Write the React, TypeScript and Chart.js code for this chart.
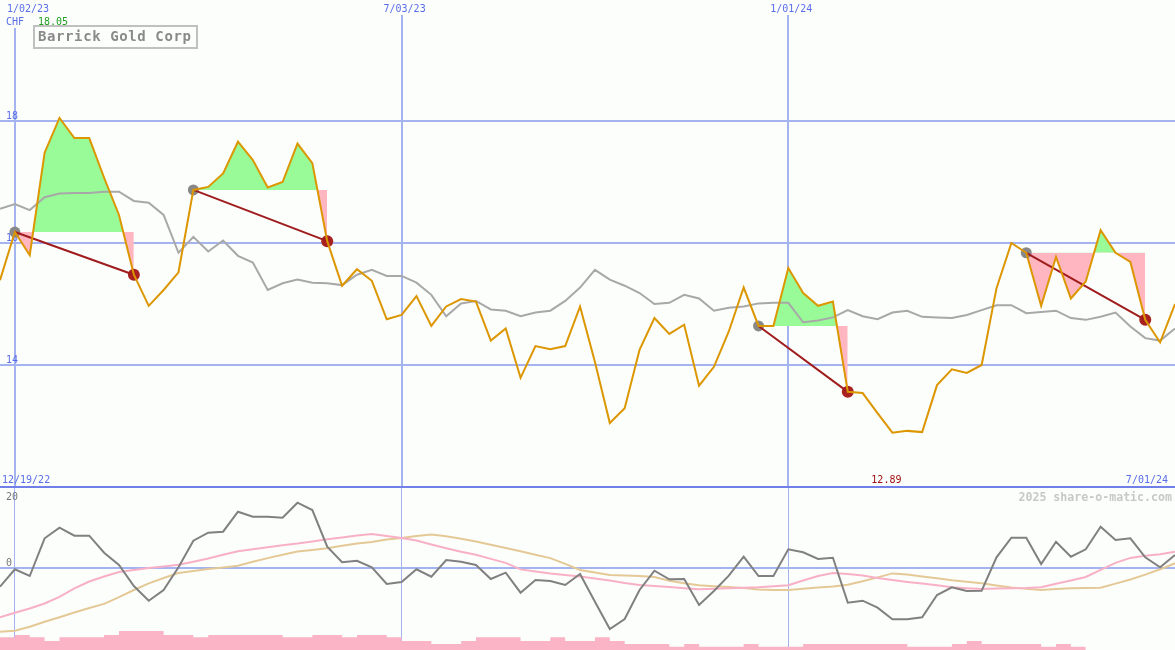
import React, { useEffect, useRef } from 'react';
import { Chart, registerables } from 'chart.js';

Chart.register(...registerables);

// ---------------- data (weekly, index 0 = week of 12/26/22) ----------------
const price = [
  15.39, 16.18, 15.80, 17.48, 18.05, 17.72, 17.72, 17.07, 16.46, 15.48,
  14.97, 15.23, 15.52, 16.87, 16.92, 17.14, 17.66, 17.36, 16.91, 17.00,
  17.63, 17.31, 16.03, 15.30, 15.57, 15.38, 14.75, 14.82, 15.13, 14.64,
  14.96, 15.08, 15.04, 14.40, 14.60, 13.79, 14.31, 14.26, 14.31, 14.96,
  14.05, 13.05, 13.29, 14.25, 14.77, 14.51, 14.66, 13.66, 13.97, 14.55,
  15.27, 14.64, 14.64, 15.59, 15.18, 14.97, 15.04, 13.56, 13.54, 13.21,
  12.89, 12.92, 12.90, 13.67, 13.93, 13.87, 14.00, 15.26, 16.00, 15.84,
  14.97, 15.77, 15.09, 15.37, 16.21, 15.84, 15.69, 14.74, 14.37, 15.00,
];

const movingAvg = [
  16.56, 16.64, 16.54, 16.75, 16.81, 16.82, 16.82, 16.84, 16.84, 16.69,
  16.66, 16.46, 15.84, 16.10, 15.86, 16.04, 15.79, 15.68, 15.23, 15.34,
  15.40, 15.35, 15.34, 15.31, 15.48, 15.56, 15.46, 15.46, 15.35, 15.15,
  14.80, 15.01, 15.05, 14.91, 14.89, 14.80, 14.86, 14.89, 15.05, 15.27,
  15.56, 15.40, 15.30, 15.18, 15.00, 15.02, 15.15, 15.09, 14.89, 14.94,
  14.96, 15.01, 15.02, 15.02, 14.70, 14.73, 14.78, 14.90, 14.80, 14.75,
  14.86, 14.89, 14.79, 14.78, 14.77, 14.82, 14.90, 14.98, 14.98, 14.85,
  14.87, 14.89, 14.77, 14.74, 14.79, 14.86, 14.63, 14.44, 14.40, 14.60,
];

const oscillator = [
  -4.71, -0.40, -2.06, 7.29, 9.91, 7.93, 7.93, 3.72, 0.67, -4.54,
  -8.18, -5.53, 0.10, 6.69, 8.67, 8.92, 13.88, 12.64, 12.64, 12.39,
  16.11, 14.30, 5.20, 1.34, 1.73, 0.10, -4.04, -3.54, -0.40, -2.23,
  1.91, 1.49, 0.67, -2.80, -1.24, -6.20, -3.05, -3.30, -4.29, -1.56,
  -8.43, -15.19, -12.71, -5.53, -0.74, -2.87, -2.80, -9.24, -5.77, -1.98,
  2.73, -2.06, -2.06, 4.56, 3.82, 2.16, 2.48, -8.67, -8.18, -9.91,
  -12.79, -12.79, -12.29, -6.77, -4.86, -5.77, -5.70, 2.58, 7.43, 7.43,
  0.92, 6.44, 2.73, 4.56, 10.16, 6.86, 7.29, 2.58, 0.10, 3.15,
];

const pinkAvg = [
  -12.29, -11.15, -10.11, -8.87, -7.24, -5.13, -3.42, -2.18, -1.07, -0.57,
  -0.10, 0.30, 0.74, 1.49, 2.26, 3.20, 4.09, 4.58, 5.08, 5.55,
  5.97, 6.49, 7.06, 7.48, 7.96, 8.33, 7.88, 7.34, 6.72, 5.77,
  4.83, 3.97, 3.20, 2.18, 1.19, -0.42, -0.97, -1.46, -1.81, -2.16,
  -2.65, -3.17, -3.79, -4.31, -4.54, -4.76, -5.08, -5.35, -5.20, -5.08,
  -4.98, -4.83, -4.58, -4.36, -3.17, -2.08, -1.34, -1.56, -1.96, -2.55,
  -3.07, -3.52, -3.89, -4.36, -4.86, -5.08, -5.28, -5.18, -5.11, -5.03,
  -4.83, -3.97, -3.17, -2.30, -0.52, 1.19, 2.43, 2.95, 3.35, 3.97,
];

const tanAvg = [
  -15.86, -15.61, -14.62, -13.38, -12.27, -11.10, -10.01, -8.97, -7.31, -5.53,
  -3.87, -2.55, -1.34, -0.84, -0.35, 0.05, 0.50, 1.46, 2.38, 3.22,
  4.01, 4.41, 4.83, 5.43, 5.97, 6.37, 7.01, 7.34, 7.83, 8.20,
  7.81, 7.16, 6.49, 5.70, 4.86, 4.06, 3.20, 2.38, 0.94, -0.57,
  -1.19, -1.81, -1.93, -2.06, -2.30, -3.22, -3.87, -4.36, -4.58, -4.81,
  -5.03, -5.38, -5.53, -5.50, -5.20, -4.93, -4.68, -4.24, -3.35, -2.40,
  -1.41, -1.66, -2.18, -2.63, -3.12, -3.49, -3.87, -4.39, -4.93, -5.25,
  -5.50, -5.28, -5.11, -5.03, -4.96, -3.94, -2.92, -1.73, -0.40, 1.09,
];

const volume = [
  3.8, 4.5, 3.8, 2.7, 3.8, 3.8, 3.8, 4.5, 5.7, 5.7,
  5.7, 4.5, 4.5, 3.8, 4.5, 4.5, 4.5, 4.5, 4.5, 3.8,
  3.8, 4.5, 4.5, 3.8, 4.5, 4.5, 3.8, 2.7, 2.7, 1.8,
  1.8, 2.7, 3.8, 3.8, 3.8, 2.7, 2.7, 3.8, 2.7, 2.7,
  3.8, 2.7, 1.8, 1.8, 1.8, 1.0, 1.8, 1.0, 1.0, 1.0,
  1.8, 1.0, 1.0, 1.0, 1.8, 1.8, 1.8, 1.8, 1.8, 1.8,
  1.8, 1.0, 1.0, 1.0, 1.8, 2.7, 1.8, 1.8, 1.8, 1.8,
  1.0, 1.8, 1.0, 1.0,
];

const entryWeeks = [1, 13, 51, 69];
const exitWeeks = [9, 22, 57, 77];

const dateTickWeeks = [1, 27, 53];
const dateTickLabels = ['1/02/23', '7/03/23', '1/01/24'];
const priceTicks = [14, 16, 18];
const oscTicks = [20, 0, -20];
const firstDateLabel = '12/19/22';
const lastDateLabel = '7/01/24';
const currency = 'CHF';
const title = 'Barrick Gold Corp';
const credit = '2025 share-o-matic.com';

// ---------------- styling ----------------
const W = 1175;
const TOP_H = 487;
const BOT_TOP = 486;
const BOT_H = 164;
const BG = '#fcfefc';
const GRID = '#a4b4f0';
const SEP = '#7080e8';
const BLUE_TXT = '#5a6ee8';
const MONO = '"DejaVu Sans Mono", "Liberation Mono", monospace';
const GREEN_FILL = '#98fb98';
const PINK_FILL = '#ffb6c1';
const ORANGE = '#dc9600';
const TRADE_RED = '#a01c1c';

const pts = (values: number[], start = 0) => values.map((v, i) => ({ x: start + i, y: v }));

function labelWithBg(ctx: CanvasRenderingContext2D, text: string, x: number, baseline: number, color: string) {
  const w = ctx.measureText(text).width;
  ctx.fillStyle = BG;
  ctx.fillRect(x - 1, baseline - 12, w + 2, 15);
  ctx.fillStyle = color;
  ctx.fillText(text, x, baseline);
}

function xScale(lineWidth: number) {
  return {
    type: 'linear',
    min: 0,
    max: price.length - 1,
    bounds: 'data',
    afterBuildTicks: (s: any) => { s.ticks = dateTickWeeks.map((v) => ({ value: v })); },
    afterFit: (s: any) => { s.height = 0; },
    ticks: { display: false },
    border: { display: false },
    grid: { color: GRID, lineWidth, drawTicks: false },
  };
}

export default function App() {
  const topRef = useRef<HTMLCanvasElement>(null);
  const botRef = useRef<HTMLCanvasElement>(null);

  useEffect(() => {
    const hi = Math.max(...price);
    const lo = Math.min(...price);
    const loWeek = price.indexOf(lo);

    const fillSets = entryWeeks.map((e, k) => ({
      type: 'line',
      data: pts(price.slice(e, exitWeeks[k] + 1), e),
      borderWidth: 0,
      borderColor: 'rgba(0,0,0,0)',
      pointRadius: 0,
      fill: { target: { value: price[e] }, above: GREEN_FILL, below: PINK_FILL },
      order: 10,
    }));
    const tradeLines = entryWeeks.map((e, k) => ({
      type: 'line',
      data: [{ x: e, y: price[e] }, { x: exitWeeks[k], y: price[exitWeeks[k]] }],
      borderColor: TRADE_RED,
      borderWidth: 2,
      pointRadius: 0,
      fill: false,
      order: 2,
    }));

    const topPlugin = {
      id: 'topDecor',
      beforeDatasetsDraw(chart: any) {
        const { ctx, scales } = chart;
        ctx.save();
        ctx.font = `10px ${MONO}`;
        ctx.fillStyle = BLUE_TXT;
        ctx.textBaseline = 'alphabetic';
        priceTicks.forEach((v) => ctx.fillText(String(v), 6, scales.y.getPixelForValue(v) - 2));
        ctx.restore();
      },
      afterDraw(chart: any) {
        const { ctx, scales } = chart;
        ctx.save();
        ctx.textBaseline = 'alphabetic';
        ctx.font = `10px ${MONO}`;
        dateTickWeeks.forEach((wk, i) => {
          const t = dateTickLabels[i];
          const w = ctx.measureText(t).width;
          const left = Math.max(7, scales.x.getPixelForValue(wk) + 3 - w / 2);
          labelWithBg(ctx, t, left, 12, BLUE_TXT);
        });
        labelWithBg(ctx, currency, 6, 25, BLUE_TXT);
        labelWithBg(ctx, hi.toFixed(2), 38, 25, '#22a022');

        // title box
        ctx.strokeStyle = '#c0c0c0';
        ctx.lineWidth = 2;
        ctx.strokeRect(34, 26, 163, 22);
        ctx.font = `bold 14px ${MONO}`;
        (ctx as any).letterSpacing = '0.6px';
        ctx.fillStyle = '#8a8a8a';
        ctx.fillText(title, 38, 41);
        (ctx as any).letterSpacing = '0px';

        // bottom row
        ctx.font = `10px ${MONO}`;
        ctx.fillStyle = BLUE_TXT;
        ctx.textAlign = 'left';
        ctx.fillText(firstDateLabel, 2, 483);
        ctx.textAlign = 'right';
        ctx.fillText(lastDateLabel, 1168, 483);
        ctx.textAlign = 'center';
        ctx.fillStyle = '#a01010';
        ctx.fillText(lo.toFixed(2), scales.x.getPixelForValue(loWeek) - 6, 483);
        ctx.restore();
      },
    };

    const top = new Chart(topRef.current as HTMLCanvasElement, {
      type: 'line',
      data: {
        datasets: [
          {
            data: pts(price),
            borderColor: ORANGE,
            borderWidth: 2,
            pointRadius: 0,
            fill: false,
            order: 0,
          },
          ...tradeLines,
          {
            data: exitWeeks.map((w) => ({ x: w, y: price[w] })),
            showLine: false,
            pointRadius: 6,
            pointBorderWidth: 0,
            pointBackgroundColor: '#a82020',
            order: 3,
          },
          {
            data: entryWeeks.map((w) => ({ x: w, y: price[w] })),
            showLine: false,
            pointRadius: 5.5,
            pointBorderWidth: 0,
            pointBackgroundColor: '#888888',
            order: 4,
          },
          {
            data: pts(movingAvg),
            borderColor: '#a8a8a8',
            borderWidth: 2,
            pointRadius: 0,
            fill: false,
            order: 5,
          },
          ...fillSets,
        ] as any,
      },
      options: {
        responsive: false,
        animation: false,
        devicePixelRatio: 1,
        events: [],
        layout: { padding: 0, autoPadding: false },
        elements: { line: { tension: 0 } },
        plugins: { legend: { display: false }, tooltip: { enabled: false } },
        scales: {
          x: xScale(2) as any,
          y: {
            type: 'linear',
            min: 12,
            max: 12 + TOP_H / 61,
            bounds: 'data',
            afterBuildTicks: (s: any) => { s.ticks = priceTicks.map((v) => ({ value: v })); },
            afterFit: (s: any) => { s.width = 0; },
            ticks: { display: false },
            border: { display: false },
            grid: { color: GRID, lineWidth: 2, drawTicks: false },
          },
        },
      },
      plugins: [topPlugin],
    } as any);

    const botPlugin = {
      id: 'botDecor',
      beforeDatasetsDraw(chart: any) {
        const { ctx, scales, chartArea } = chart;
        ctx.save();
        ctx.strokeStyle = SEP;
        ctx.lineWidth = 2;
        ctx.beginPath();
        ctx.moveTo(0, 1);
        ctx.lineTo(W, 1);
        ctx.stroke();
        ctx.font = `10px ${MONO}`;
        ctx.fillStyle = '#777777';
        ctx.textBaseline = 'alphabetic';
        oscTicks.forEach((v) => {
          const yb = Math.max(scales.y.getPixelForValue(v) - 2, chartArea.top + 14);
          ctx.fillText(String(v), 6, yb);
        });
        ctx.restore();
      },
      afterDraw(chart: any) {
        const { ctx } = chart;
        ctx.save();
        ctx.font = `bold 11.6px ${MONO}`;
        ctx.fillStyle = '#c8c8c8';
        ctx.textAlign = 'right';
        ctx.textBaseline = 'alphabetic';
        ctx.fillText(credit, 1172, 15);
        ctx.restore();
      },
    };

    const bot = new Chart(botRef.current as HTMLCanvasElement, {
      type: 'line',
      data: {
        datasets: [
          {
            data: pts(oscillator),
            borderColor: '#808080',
            borderWidth: 2,
            pointRadius: 0,
            fill: false,
            order: 0,
          },
          {
            data: pts(pinkAvg),
            borderColor: '#f8b0c6',
            borderWidth: 2,
            pointRadius: 0,
            fill: false,
            order: 1,
          },
          {
            data: pts(tanAvg),
            borderColor: '#e4c996',
            borderWidth: 2,
            pointRadius: 0,
            fill: false,
            order: 2,
          },
          {
            data: pts(volume),
            yAxisID: 'yv',
            stepped: true,
            borderWidth: 0,
            borderColor: 'rgba(0,0,0,0)',
            backgroundColor: '#fab4c6',
            pointRadius: 0,
            fill: 'start',
            order: 3,
          },
        ] as any,
      },
      options: {
        responsive: false,
        animation: false,
        devicePixelRatio: 1,
        events: [],
        layout: { padding: 0, autoPadding: false },
        elements: { line: { tension: 0 } },
        plugins: { legend: { display: false }, tooltip: { enabled: false } },
        scales: {
          x: xScale(1) as any,
          y: {
            type: 'linear',
            min: -20.4,
            max: 20.25,
            bounds: 'data',
            afterBuildTicks: (s: any) => { s.ticks = [{ value: 0 }]; },
            afterFit: (s: any) => { s.width = 0; },
            ticks: { display: false },
            border: { display: false },
            grid: { color: GRID, lineWidth: 2, drawTicks: false },
          },
          yv: {
            type: 'linear',
            display: false,
            min: 0,
            max: 49,
            bounds: 'data',
          },
        },
      },
      plugins: [botPlugin],
    } as any);

    return () => {
      top.destroy();
      bot.destroy();
    };
  }, []);

  return (
    <div
      style={{
        position: 'fixed',
        left: 0,
        top: 0,
        width: W,
        height: 650,
        background: BG,
        overflow: 'hidden',
      }}
    >
      <canvas
        ref={topRef}
        width={W}
        height={TOP_H}
        style={{ position: 'absolute', left: 0, top: 0, width: W, height: TOP_H }}
      />
      <canvas
        ref={botRef}
        width={W}
        height={BOT_H}
        style={{ position: 'absolute', left: 0, top: BOT_TOP, width: W, height: BOT_H }}
      />
    </div>
  );
}
